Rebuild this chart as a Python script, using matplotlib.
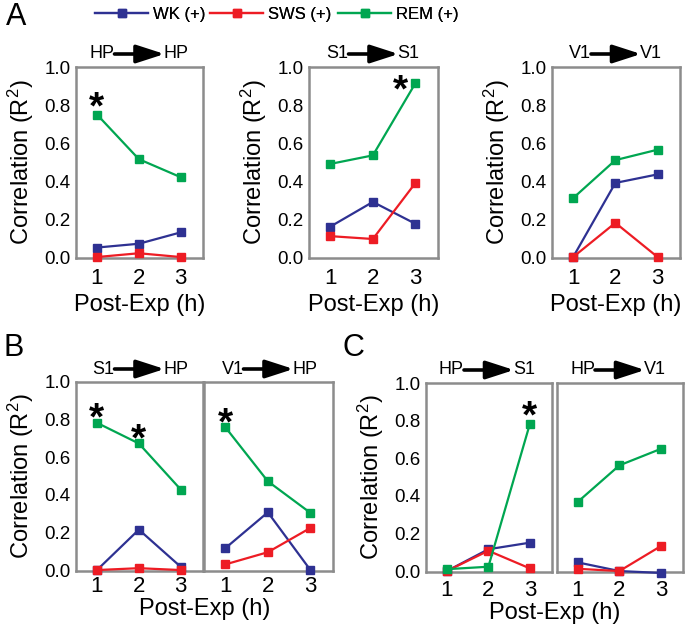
import matplotlib
matplotlib.use("Agg")
import matplotlib.pyplot as plt
from matplotlib.patches import FancyArrowPatch

plt.rcParams['font.family'] = ['Liberation Sans', 'DejaVu Sans']
plt.rcParams['mathtext.fontset'] = 'custom'
plt.rcParams['mathtext.rm'] = 'Liberation Sans'
plt.rcParams['mathtext.it'] = 'Liberation Sans'

hours = [1, 2, 3]
yticks = [0.0, 0.2, 0.4, 0.6, 0.8, 1.0]
ytick_labels = ['0.0', '0.2', '0.4', '0.6', '0.8', '1.0']
series_names = ['WK (+)', 'SWS (+)', 'REM (+)']

# panel titles (source, target)
titles = [('HP', 'HP'), ('S1', 'S1'), ('V1', 'V1'),
          ('S1', 'HP'), ('V1', 'HP'), ('HP', 'S1'), ('HP', 'V1')]

wk = [
    [0.05, 0.07, 0.13],
    [0.16, 0.29, 0.175],
    [0.0, 0.39, 0.435],
    [0.0, 0.215, 0.017],
    [0.116, 0.307, 0.0],
    [0.0, 0.116, 0.151],
    [0.046, 0.0, -0.01],
]
sws = [
    [0.0, 0.02, 0.0],
    [0.11, 0.095, 0.39],
    [0.0, 0.18, 0.0],
    [0.0, 0.01, 0.0],
    [0.03, 0.095, 0.224],
    [0.0, 0.108, 0.014],
    [0.012, 0.0, 0.133],
]
rem = [
    [0.75, 0.515, 0.42],
    [0.49, 0.535, 0.915],
    [0.31, 0.51, 0.565],
    [0.783, 0.673, 0.428],
    [0.76, 0.472, 0.304],
    [0.01, 0.023, 0.784],
    [0.368, 0.562, 0.65],
]
# significance stars: (panel index, hour index)
stars = [(0, 0), (1, 2), (3, 0), (3, 1), (4, 0), (5, 2)]

colors = ['#2E3192', '#ED1C24', '#00A651']
frame_col = '#8C8C8C'

W, H = 686, 629
fig = plt.figure(figsize=(W / 100, H / 100), dpi=100)

# axes boxes in pixels: left, top, right, bottom
boxes = [
    (76, 67, 203, 258),
    (309, 67, 438, 258),
    (552, 67, 680, 258),
    (76, 382, 203, 571),
    (204, 382, 333, 571),
    (426, 383, 552, 572),
    (557, 383, 683, 572),
]
xpads = [7, 7, 7, 3.5, 3.5, 5.5, 5.5]

axes = []
for i, (l, t, r, b) in enumerate(boxes):
    ax = fig.add_axes([l / W, 1 - b / H, (r - l) / W, (b - t) / H])
    axes.append(ax)
    ax.set_xlim(0.5, 3.53)
    ax.set_ylim(-0.005, 1.0)
    for s in ax.spines.values():
        s.set_color(frame_col)
        s.set_linewidth(1.8)
    ax.set_xticks(hours)
    ax.set_xticklabels([str(h) for h in hours])
    ax.set_yticks(yticks)
    ax.tick_params(axis='y', length=0, labelsize=13.5, pad=4)
    ax.tick_params(axis='x', length=0, labelsize=16, pad=xpads[i])
    if i in (4, 6):
        ax.set_yticklabels([])
    else:
        ax.set_yticklabels(ytick_labels)
        ax.set_ylabel('Correlation (R$^2$)', fontsize=17)
        ax.yaxis.set_label_coords(-40 / (r - l), 0.5)

    lines = []
    for vals, c, name in zip([wk[i], sws[i], rem[i]], colors, series_names):
        ln, = ax.plot(hours, vals, color=c, lw=1.6, marker='s', ms=6,
                      label=name, clip_on=False, zorder=3)
        lines.append(ln)
    if i == 0:
        leg_lines = lines

    # title with arrow
    pw = r - l
    d = 25 / pw
    ty = 1 + 13 / (b - t)
    ax.text(0.5 - d, ty, titles[i][0], transform=ax.transAxes, ha='right',
            va='center', fontsize=13)
    ax.text(0.5 + d - 1 / pw, ty, titles[i][1], transform=ax.transAxes, ha='left',
            va='center', fontsize=13)
    arr = FancyArrowPatch((0.5 - d, ty), (0.5 + d, ty), transform=ax.transAxes,
                          arrowstyle='-|>,head_length=1.7,head_width=0.55',
                          mutation_scale=10, lw=2.6, color='black',
                          shrinkA=0, shrinkB=0, clip_on=False)
    ax.add_patch(arr)

for (pi, hi) in stars:
    ax = axes[pi]
    x = hours[hi]
    y = rem[pi][hi]
    if pi == 1:
        off = (-11, 3)
    elif pi in (3, 4):
        off = (0, 11)
    else:
        off = (0, 13)
    ax.annotate('*', xy=(x, y), xytext=(off[0], off[1] - 16), textcoords='offset points',
                ha='center', va='baseline', fontsize=28, fontweight='bold',
                color='black', zorder=5)

# x labels
for (l, t, r, b) in boxes[:3]:
    fig.text((l + r) / 2 / W, 1 - 305 / H, 'Post-Exp (h)', ha='center', va='center', fontsize=17)
fig.text((76 + 333) / 2 / W, 1 - 609 / H, 'Post-Exp (h)', ha='center', va='center', fontsize=17)
fig.text((426 + 683) / 2 / W, 1 - 613 / H, 'Post-Exp (h)', ha='center', va='center', fontsize=17)

# panel letters
fig.text(6 / W, 1 - 17 / H, 'A', fontsize=22, ha='left', va='center')
fig.text(4 / W, 1 - 348 / H, 'B', fontsize=22, ha='left', va='center')
fig.text(343 / W, 1 - 348 / H, 'C', fontsize=22, ha='left', va='center')

# legend entries, each placed at its own spot
leg_x = [95, 210, 338]
for ln, lx in zip(leg_lines, leg_x):
    lg = fig.legend(handles=[ln], loc='center left', bbox_to_anchor=(lx / W, 1 - 14 / H),
                    frameon=False, fontsize=12, handlelength=3.2, handletextpad=0.3,
                    borderpad=0, borderaxespad=0)
    fig.add_artist(lg)

fig.savefig('out.png', dpi=100)
